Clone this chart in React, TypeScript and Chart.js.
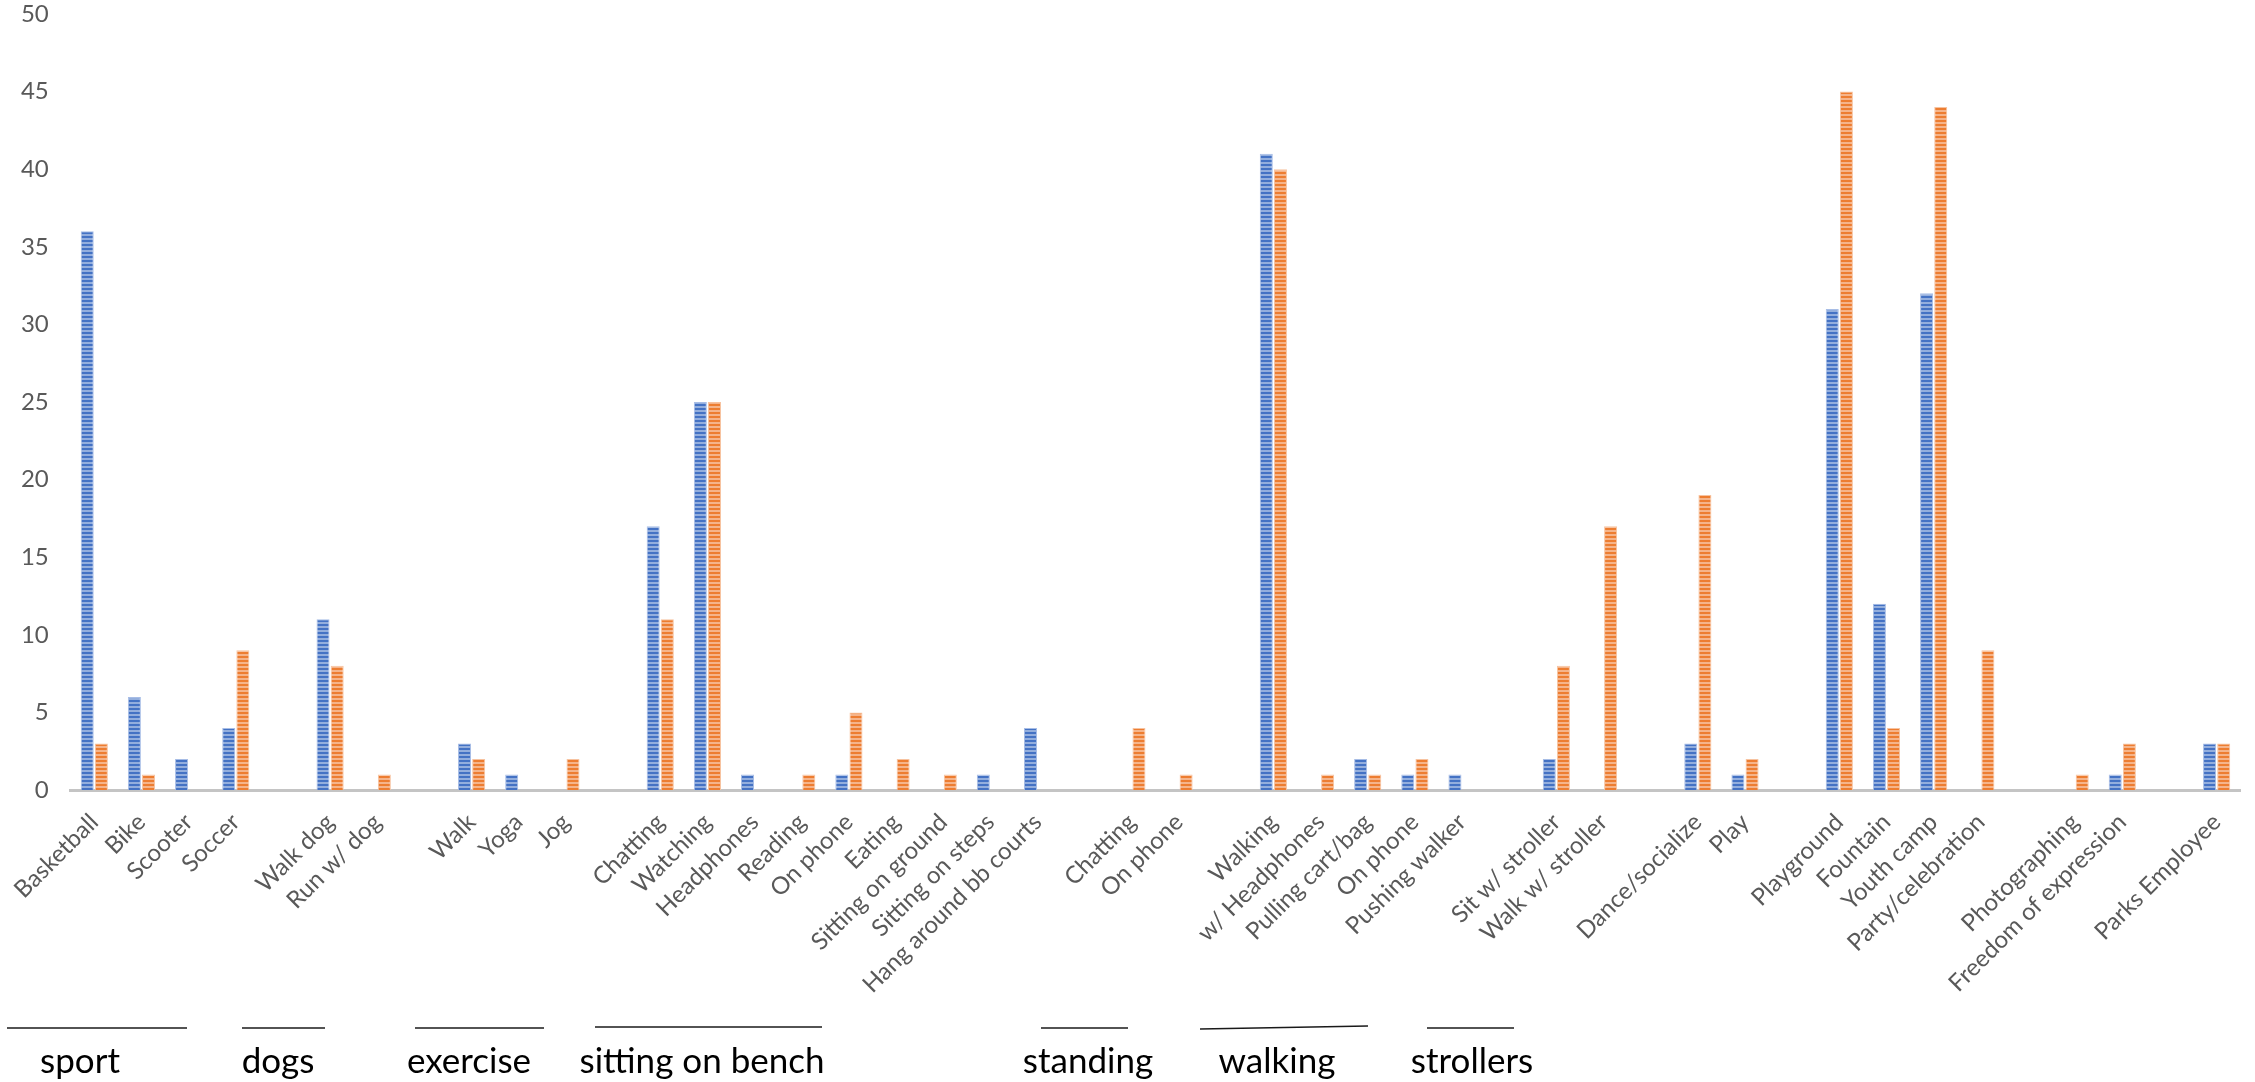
import React, { useEffect, useRef } from "react";
import { Chart, registerables } from "chart.js";

Chart.register(...registerables);

const categories: string[] = [
  "Basketball", "Bike", "Scooter", "Soccer", "",
  "Walk dog", "Run w/ dog", "",
  "Walk", "Yoga", "Jog", "",
  "Chatting", "Watching", "Headphones", "Reading", "On phone", "Eating", "Sitting on ground", "Sitting on steps", "Hang around bb courts", "",
  "Chatting", "On phone", "",
  "Walking", "w/ Headphones", "Pulling cart/bag", "On phone", "Pushing walker", "",
  "Sit w/ stroller", "Walk w/ stroller", "",
  "Dance/socialize", "Play", "",
  "Playground", "Fountain", "Youth camp", "Party/celebration", "",
  "Photographing", "Freedom of expression", "",
  "Parks Employee",
];

const seriesBlue: (number | null)[] = [
  36, 6, 2, 4, null,
  11, 0, null,
  3, 1, 0, null,
  17, 25, 1, 0, 1, 0, 0, 1, 4, null,
  0, 0, null,
  41, 0, 2, 1, 1, null,
  2, 0, null,
  3, 1, null,
  31, 12, 32, 0, null,
  0, 1, null,
  3,
];

const seriesOrange: (number | null)[] = [
  3, 1, 0, 9, null,
  8, 1, null,
  2, 0, 2, null,
  11, 25, 0, 1, 5, 2, 1, 0, 0, null,
  4, 1, null,
  40, 1, 1, 2, 0, null,
  8, 17, null,
  19, 2, null,
  45, 4, 44, 9, null,
  1, 3, null,
  3,
];

const yTicks: number[] = [0, 5, 10, 15, 20, 25, 30, 35, 40, 45, 50];

const groupNames: string[] = ["sport", "dogs", "exercise", "sitting on bench", "standing", "walking", "strollers"];

// annotation geometry (pixels) for the hand-drawn group underlines and captions
const groupLines: [number, number, number, number][] = [
  [7, 1028, 187, 1028],
  [242, 1028, 325, 1028],
  [415, 1028, 544, 1028],
  [595, 1027, 822, 1027],
  [1041, 1028, 1128, 1028],
  [1200, 1029, 1368, 1026],
  [1427, 1028, 1514, 1028],
];
const groupTextX: number[] = [80, 278, 469, 702, 1088, 1277, 1472];

function makePattern(dark: string, light: string): CanvasPattern | string {
  const c = document.createElement("canvas");
  c.width = 4;
  c.height = 4;
  const g = c.getContext("2d");
  if (!g) return dark;
  g.fillStyle = light;
  g.fillRect(0, 0, 4, 4);
  g.fillStyle = dark;
  g.fillRect(0, 0, 4, 2);
  const p = g.createPattern(c, "repeat");
  return p || dark;
}

const groupPlugin = {
  id: "groupLabels",
  afterDraw(chart: any) {
    const ctx = chart.ctx as CanvasRenderingContext2D;
    ctx.save();
    ctx.strokeStyle = "#1a1a1a";
    ctx.lineWidth = 1.5;
    groupLines.forEach(([x1, y1, x2, y2]) => {
      ctx.beginPath();
      ctx.moveTo(x1, y1);
      ctx.lineTo(x2, y2);
      ctx.stroke();
    });
    ctx.fillStyle = "#000000";
    ctx.font = "35px Lato";
    ctx.textAlign = "center";
    ctx.textBaseline = "alphabetic";
    groupNames.forEach((name, i) => {
      ctx.fillText(name, groupTextX[i], 1073);
    });
    ctx.restore();
  },
};

export default function App() {
  const ref = useRef<HTMLCanvasElement | null>(null);

  useEffect(() => {
    document.body.style.margin = "0";
    const canvas = ref.current;
    if (!canvas) return;
    const bluePattern = makePattern("#4472C4", "#93AEDD");
    const orangePattern = makePattern("#ED7D31", "#F5B48A");

    const chart = new Chart(canvas, {
      type: "bar",
      data: {
        labels: categories,
        datasets: [
          {
            label: "A",
            data: seriesBlue,
            backgroundColor: bluePattern as any,
            borderColor: "#A7BDE6",
            borderWidth: (c: any) => (c.raw ? 1 : 0),
            categoryPercentage: 0.6,
            barPercentage: 0.92,
          },
          {
            label: "B",
            data: seriesOrange,
            backgroundColor: orangePattern as any,
            borderColor: "#F7C3A0",
            borderWidth: (c: any) => (c.raw ? 1 : 0),
            categoryPercentage: 0.6,
            barPercentage: 0.92,
          },
        ],
      },
      options: {
        responsive: false,
        animation: false,
        devicePixelRatio: 1,
        layout: { padding: { top: 0, left: 0, right: 13, bottom: 0 } },
        plugins: {
          legend: { display: false },
          tooltip: { enabled: false },
          title: { display: false },
        },
        scales: {
          x: {
            grid: { display: false, drawTicks: false },
            border: { display: true, color: "#C4C4C4", width: 3 },
            ticks: {
              autoSkip: false,
              minRotation: 45,
              maxRotation: 45,
              padding: 18,
              color: "#595959",
              font: { family: "Lato", size: 24 },
            },
            afterFit: (s: any) => {
              s.height = 1082 - 790;
            },
          },
          y: {
            min: 0,
            max: 50,
            grid: { display: false, drawTicks: false },
            border: { display: false },
            afterBuildTicks: (s: any) => {
              s.ticks = yTicks.map((v) => ({ value: v }));
            },
            ticks: {
              padding: 22,
              color: "#595959",
              font: { family: "Lato", size: 24 },
            },
            afterFit: (s: any) => {
              s.width = 58;
              s.paddingTop = 14;
              s.paddingBottom = 0;
            },
          },
        },
      },
      plugins: [groupPlugin],
    });
    return () => chart.destroy();
  }, []);

  return (
    <canvas
      ref={ref}
      width={2255}
      height={1082}
      style={{ display: "block", width: "2255px", height: "1082px" }}
    />
  );
}
